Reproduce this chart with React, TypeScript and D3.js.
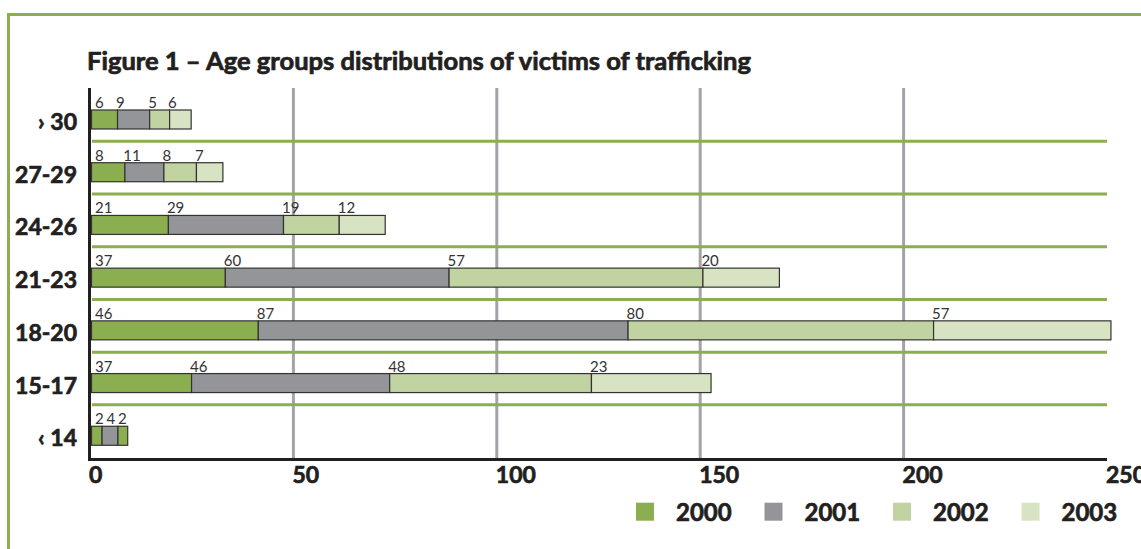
import React from 'react';
import * as d3 from 'd3';

// age groups, top to bottom
const groups = ['› 30', '27-29', '24-26', '21-23', '18-20', '15-17', '‹ 14'];
const years = ['2000', '2001', '2002', '2003'];

// segment lengths as drawn in the original (they don't always agree with the printed numbers)
const v2000 = [6.4, 8.2, 18.9, 32.9, 41.0, 24.6, 2.6];
const v2001 = [7.9, 9.6, 28.3, 55.0, 90.9, 48.7, 3.9];
const v2002 = [4.9, 8.0, 13.7, 62.4, 75.1, 49.6, 2.4];
const v2003 = [5.3, 6.5, 11.3, 18.8, 43.6, 29.4, 0];

// numbers printed above the segments
const lbl2000 = ['6', '8', '21', '37', '46', '37', '2'];
const lbl2001 = ['9', '11', '29', '60', '87', '46', '4'];
const lbl2002 = ['5', '8', '19', '57', '80', '48', '2'];
const lbl2003 = ['6', '7', '12', '20', '57', '23', ''];

const xTicks = [0, 50, 100, 150, 200, 250];

const colors: Record<string, string> = {
  '2000': '#8aae50',
  '2001': '#939598',
  '2002': '#c1d3a1',
  '2003': '#d7e3c3',
};
// the last cell of "‹ 14" is filled with the 2000 green in the original
const greenCells = [['‹ 14', '2002']];

const W = 1141;
const H = 549;
const ink = '#231f20';
const font = 'Lato, "Open Sans", sans-serif';
// Lato has no black weight installed, a thin outline makes the bold heavier
const heavy = { fontFamily: font, fontWeight: 700, fill: ink, stroke: ink, strokeWidth: 0.7 };

const App: React.FC = () => {
  const values = [v2000, v2001, v2002, v2003];
  const labels = [lbl2000, lbl2001, lbl2002, lbl2003];

  const rows = groups.map((g, i) => {
    const r: { [k: string]: number | string } = { group: g };
    years.forEach((y, j) => (r[y] = values[j][i]));
    return r;
  });
  const stacked = d3.stack<any>().keys(years)(rows);

  const x = d3.scaleLinear().domain([0, 250]).range([90, 1107]);
  const y = d3.scaleBand().domain(groups).range([93, 462]);
  const barOff = 17;
  const barH = 19;
  const plotTop = 88;
  const plotBottom = 459.5;

  const isGreen = (g: string, yr: string) => greenCells.some((c) => c[0] === g && c[1] === yr);

  // label positions: start at the segment edge, pushed right if they would collide
  const labelPos: { x: number; y: number; t: string }[] = [];
  groups.forEach((g, i) => {
    let minX = 0;
    years.forEach((yr, j) => {
      const t = labels[j][i];
      if (!t) return;
      const x0 = x(stacked[j][i][0]) + (j === 0 ? 5 : 0);
      const px = Math.max(x0, minX);
      labelPos.push({ x: px, y: (y(g) as number) + barOff - 2, t });
      minX = px + t.length * 7.5 + 4;
    });
  });

  const legendX = d3.scaleLinear().domain([0, 1]).range([636, 764.5]);

  return (
    <svg width={W} height={H} style={{ position: 'absolute', left: 0, top: 0, background: '#fff' }}>
      {/* frame */}
      <rect x={8.5} y={14.5} width={1300} height={700} fill="none" stroke="#8aae50" strokeWidth={3} />

      <text x={87} y={70} {...heavy} fontSize={24} textLength={664} lengthAdjust="spacingAndGlyphs">
        Figure 1 – Age groups distributions of victims of trafficking
      </text>

      {/* vertical grid */}
      {xTicks.slice(1, -1).map((t) => (
        <line key={t} x1={x(t)} x2={x(t)} y1={plotTop} y2={plotBottom} stroke="#a2a4a7" strokeWidth={3} />
      ))}

      {/* green separators */}
      {groups.slice(0, -1).map((g) => (
        <line key={g} x1={92} x2={1107} y1={(y(g) as number) + 48.3} y2={(y(g) as number) + 48.3} stroke="#8aae50" strokeWidth={3} />
      ))}

      {/* bars */}
      {stacked.map((s, j) =>
        s.map((d, i) => {
          const w = x(d[1]) - x(d[0]);
          if (w <= 0) return null;
          const g = groups[i];
          return (
            <rect
              key={`${j}-${i}`}
              x={x(d[0]) + 1.5}
              y={(y(g) as number) + barOff}
              width={w}
              height={barH}
              fill={isGreen(g, years[j]) ? colors['2000'] : colors[years[j]]}
              stroke="#333"
              strokeWidth={1.2}
            />
          );
        })
      )}

      {labelPos.map((l, k) => (
        <text key={k} x={l.x} y={l.y} fontFamily={font} fontWeight={400} fontSize={15} fill="#333">
          {l.t}
        </text>
      ))}

      {/* category labels */}
      {groups.map((g) => (
        <text key={g} x={77} y={(y(g) as number) + barOff + barH + 1} textAnchor="end" {...heavy} fontSize={23}>
          {g}
        </text>
      ))}

      {/* axes */}
      <line x1={89.5} x2={89.5} y1={plotTop} y2={plotBottom + 1.5} stroke={ink} strokeWidth={3} />
      <line x1={88} x2={1107} y1={plotBottom} y2={plotBottom} stroke={ink} strokeWidth={3} />
      {xTicks.map((t) => (
        <text key={t} x={x(t) - 1} y={482.5} {...heavy} fontSize={23}>
          {t}
        </text>
      ))}

      {/* legend */}
      {years.map((yr, j) => (
        <g key={yr} transform={`translate(${legendX(j)},0)`}>
          <rect x={0} y={502.7} width={18} height={18} fill={colors[yr]} />
          <text x={40} y={521} {...heavy} fontSize={24}>
            {yr}
          </text>
        </g>
      ))}
    </svg>
  );
};

export default App;
